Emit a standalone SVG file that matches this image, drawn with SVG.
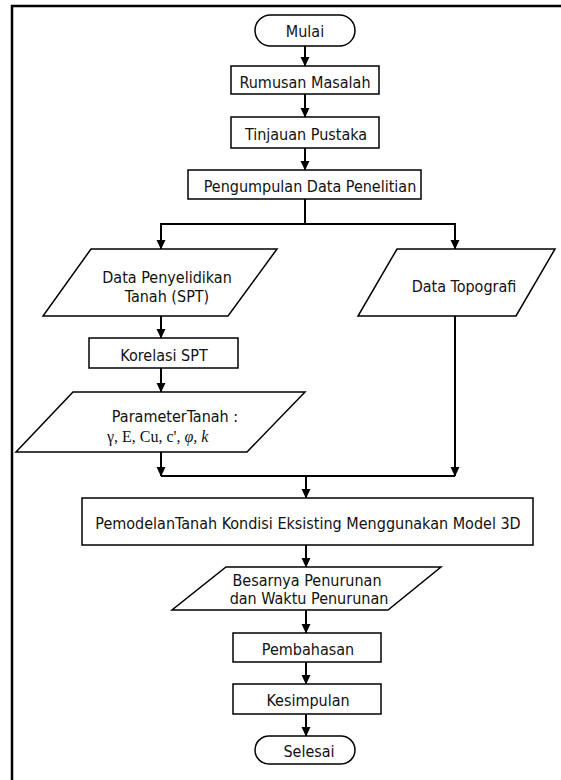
<svg xmlns="http://www.w3.org/2000/svg" width="561" height="780" viewBox="0 0 561 780">
<style>
.s{fill:#fff;stroke:#000;stroke-width:1.5}
.t{font-family:"DejaVu Sans Condensed","DejaVu Sans",sans-serif;font-stretch:condensed;font-size:16px;fill:#111;text-anchor:middle}
.m{font-family:"Liberation Serif","Times New Roman",serif;font-size:16px;fill:#111}
.c{fill:none;stroke:#000;stroke-width:2}
</style>
<defs>
<marker id="ah" markerUnits="userSpaceOnUse" markerWidth="10" markerHeight="10" viewBox="0 0 10 10" refX="9" refY="5" orient="auto">
<path d="M0,0.5 L9.5,5 L0,9.5 Z" fill="#000"/>
</marker>
</defs>
<rect width="561" height="780" fill="#fff"/>
<path d="M12,780 V6 H561" fill="none" stroke="#000" stroke-width="2.5"/>
<g id="connectors">
<line class="c" x1="305" y1="46" x2="305" y2="66" marker-end="url(#ah)"/>
<line class="c" x1="305" y1="94" x2="305" y2="117" marker-end="url(#ah)"/>
<line class="c" x1="305" y1="148" x2="305" y2="170" marker-end="url(#ah)"/>
<line class="c" x1="305" y1="199" x2="305" y2="224"/>
<line class="c" x1="160" y1="224" x2="456" y2="224" stroke-width="1.5"/>
<line class="c" x1="161" y1="224" x2="161" y2="249" marker-end="url(#ah)"/>
<line class="c" x1="455" y1="224" x2="455" y2="249" marker-end="url(#ah)"/>
<line class="c" x1="161" y1="316" x2="161" y2="338" marker-end="url(#ah)"/>
<line class="c" x1="161" y1="368" x2="161" y2="392" marker-end="url(#ah)"/>
<line class="c" x1="161" y1="452" x2="161" y2="476" marker-end="url(#ah)"/>
<line class="c" x1="455" y1="316" x2="455" y2="476" stroke-width="3.5" marker-end="url(#ah)"/>
<line class="c" x1="161" y1="476" x2="455" y2="476" stroke-width="1.5"/>
<line class="c" x1="306" y1="476" x2="306" y2="498" marker-end="url(#ah)"/>
<line class="c" x1="306" y1="545" x2="306" y2="567" marker-end="url(#ah)"/>
<line class="c" x1="306" y1="610" x2="306" y2="633" marker-end="url(#ah)"/>
<line class="c" x1="306" y1="662" x2="306" y2="684" marker-end="url(#ah)"/>
<line class="c" x1="306" y1="714" x2="306" y2="736" marker-end="url(#ah)"/>
</g>
<g id="mulai">
<rect class="s" x="255" y="15" width="100" height="31" rx="15.5"/>
<text class="t" x="305" y="36.5">Mulai</text>
</g>
<g id="rumusan">
<rect class="s" x="231" y="66" width="148" height="28"/>
<text class="t" x="305" y="87.5">Rumusan Masalah</text>
</g>
<g id="tinjauan">
<rect class="s" x="231" y="117" width="148" height="31"/>
<text class="t" x="306" y="140">Tinjauan Pustaka</text>
</g>
<g id="pengumpulan">
<rect class="s" x="188" y="170" width="233" height="29"/>
<text class="t" x="310" y="192">Pengumpulan Data Penelitian</text>
</g>
<g id="data-penyelidikan">
<polygon class="s" points="91,249 277,249 228,316 43,316"/>
<text class="t" x="167" y="283">Data Penyelidikan</text>
<text class="t" x="167" y="302">Tanah (SPT)</text>
</g>
<g id="data-topografi">
<polygon class="s" points="397,249 555,249 516,316 358,316"/>
<text class="t" x="464" y="292">Data Topografi</text>
</g>
<g id="korelasi">
<rect class="s" x="89" y="338" width="149" height="30"/>
<text class="t" x="164" y="361">Korelasi SPT</text>
</g>
<g id="parameter">
<polygon class="s" points="73,392 305,392 247,452 16,452"/>
<text class="t" x="175" y="422">ParameterTanah :</text>
<text class="m" x="107" y="442">γ, E, Cu, c', <tspan font-style="italic">φ, k</tspan></text>
</g>
<g id="pemodelan">
<rect class="s" x="82" y="498" width="451" height="47"/>
<text class="t" x="308" y="529">PemodelanTanah Kondisi Eksisting Menggunakan Model 3D</text>
</g>
<g id="besarnya">
<polygon class="s" points="226,567 441,567 388,610 172,610"/>
<text class="t" x="307" y="586">Besarnya Penurunan</text>
<text class="t" x="309" y="604">dan Waktu Penurunan</text>
</g>
<g id="pembahasan">
<rect class="s" x="233" y="633" width="148" height="29"/>
<text class="t" x="308" y="654.5">Pembahasan</text>
</g>
<g id="kesimpulan">
<rect class="s" x="233" y="684" width="148" height="30"/>
<text class="t" x="308" y="705.5">Kesimpulan</text>
</g>
<g id="selesai">
<rect class="s" x="255" y="736" width="100" height="28" rx="14"/>
<text class="t" x="309" y="756.5">Selesai</text>
</g>
</svg>
